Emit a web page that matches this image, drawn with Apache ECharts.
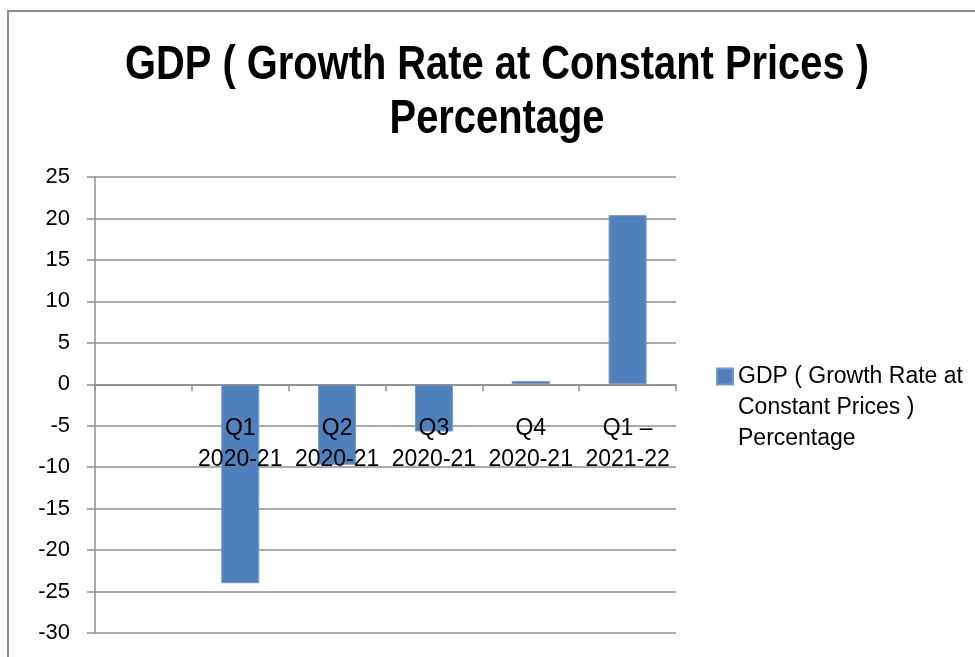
<!DOCTYPE html>
<html>
<head>
<meta charset="utf-8">
<script src="https://cdn.jsdelivr.net/npm/echarts@6/dist/echarts.min.js"></script>
<style>
  html, body { margin: 0; padding: 0; background: #ffffff; }
  #chart { width: 975px; height: 657px; }
</style>
</head>
<body>
<div id="chart"></div>
<script>
// Quarterly GDP growth (percent, constant prices)
const categories = ['', 'Q1\n2020-21', 'Q2\n2020-21', 'Q3\n2020-21', 'Q4\n2020-21', 'Q1 –\n2021-22'];
const growthRate = [null, -24.0, -9.7, -5.7, 0.4, 20.4];
const yMin = -30;
const yMax = 25;
const yStep = 5;
const seriesName = 'GDP ( Growth Rate at\nConstant Prices )\nPercentage';
const titleLines = ['GDP ( Growth Rate at Constant Prices )', 'Percentage'];

const axisGrey = '#8e8e8e';
const bodyFont = '"Liberation Sans", Arial, sans-serif';
const chartHeight = 657;
const gridBottom = 24;

const chart = echarts.init(document.getElementById('chart'), null, { renderer: 'canvas' });

chart.setOption({
  animation: false,
  backgroundColor: '#ffffff',
  legend: {
    left: 711,
    top: 294,
    orient: 'vertical',
    icon: 'rect',
    itemWidth: 16,
    itemHeight: 16,
    itemGap: 0,
    selectedMode: false,
    data: [seriesName],
    // two empty lines above keep the swatch level with the first text line
    formatter: name => '\n\n' + name,
    textStyle: {
      fontFamily: bodyFont,
      fontSize: 23,
      lineHeight: 31,
      color: '#000000'
    }
  },
  graphic: [
    {
      type: 'rect',
      silent: true,
      z: -1,
      shape: { x: 8, y: 11, width: 1100, height: 800 },
      style: { fill: 'none', stroke: axisGrey, lineWidth: 2 }
    },
    {
      // condensed bold heading
      type: 'text',
      silent: true,
      x: 497,
      y: 39,
      scaleX: 0.83,
      style: {
        text: titleLines.join('\n'),
        align: 'center',
        verticalAlign: 'top',
        fontFamily: bodyFont,
        fontWeight: 'bold',
        fontSize: 48,
        lineHeight: 54,
        fill: '#000000'
      }
    }
  ],
  grid: {
    left: 95,
    right: 299,
    top: 177,
    bottom: gridBottom,
    containLabel: false,
    outerBoundsMode: 'none'
  },
  xAxis: {
    type: 'category',
    data: categories,
    position: 'bottom',
    offset: 0,
    z: 3,
    axisLine: { onZero: false, lineStyle: { color: axisGrey, width: 1.5 } },
    axisTick: { show: true, interval: 0, alignWithLabel: false, length: 7, lineStyle: { color: axisGrey, width: 1.5 } },
    axisLabel: {
      interval: 0,
      margin: 29,
      fontFamily: bodyFont,
      fontSize: 23,
      lineHeight: 31,
      color: '#000000'
    },
    splitLine: { show: false }
  },
  yAxis: {
    type: 'value',
    min: yMin,
    max: yMax,
    interval: yStep,
    axisLine: { show: true, lineStyle: { color: axisGrey, width: 1.5 } },
    axisTick: { show: true, length: 8, lineStyle: { color: axisGrey, width: 1.5 } },
    axisLabel: {
      margin: 25,
      fontFamily: bodyFont,
      fontSize: 22,
      color: '#000000'
    },
    splitLine: { show: true, lineStyle: { color: axisGrey, width: 1.5 } }
  },
  series: [{
    name: seriesName,
    type: 'bar',
    data: growthRate,
    barWidth: 38,
    itemStyle: { color: '#4f81bd', borderColor: '#7399cb', borderWidth: 1 }
  }]
});

// lift the category axis (line, ticks and labels) up to the value 0
const zeroY = chart.convertToPixel({ yAxisIndex: 0 }, 0);
chart.setOption({ xAxis: { offset: zeroY - (chartHeight - gridBottom) } });
</script>
</body>
</html>
